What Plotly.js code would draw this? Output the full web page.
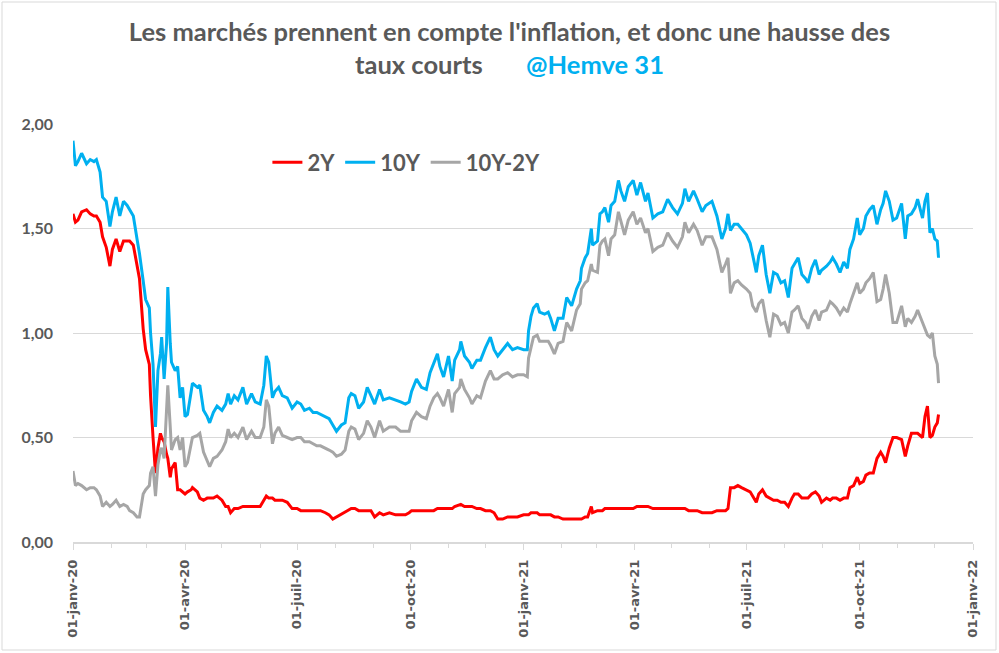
<!DOCTYPE html>
<html><head><meta charset="utf-8">
<script src="https://cdn.plot.ly/plotly-3.0.1.min.js"></script>
<style>html,body{margin:0;padding:0;background:#fff}#chart{width:999px;height:653px}</style>
</head><body><div id="chart"></div>
<script>
const dates = [
'2020-01-01','2020-01-03','2020-01-05','2020-01-08','2020-01-12','2020-01-15','2020-01-18','2020-01-20','2020-01-23','2020-01-25',
'2020-01-28','2020-01-31','2020-02-02','2020-02-05','2020-02-08','2020-02-11','2020-02-14','2020-02-16','2020-02-19','2020-02-22',
'2020-02-24','2020-02-27','2020-02-29','2020-03-03','2020-03-04','2020-03-06','2020-03-08','2020-03-10','2020-03-12','2020-03-13',
'2020-03-15','2020-03-17','2020-03-18','2020-03-20','2020-03-21','2020-03-24','2020-03-26','2020-03-28','2020-03-30','2020-04-01',
'2020-04-03','2020-04-06','2020-04-07','2020-04-11','2020-04-13','2020-04-16','2020-04-19','2020-04-21','2020-04-24','2020-04-27',
'2020-05-01','2020-05-04','2020-05-06','2020-05-08','2020-05-11','2020-05-14','2020-05-18','2020-05-21','2020-05-25','2020-05-28',
'2020-06-01','2020-06-04','2020-06-06','2020-06-08','2020-06-11','2020-06-13','2020-06-16','2020-06-19','2020-06-23','2020-06-27',
'2020-07-01','2020-07-04','2020-07-07','2020-07-11','2020-07-14','2020-07-17','2020-07-20','2020-07-24','2020-07-27','2020-07-30',
'2020-08-02','2020-08-06','2020-08-09','2020-08-12','2020-08-14','2020-08-17','2020-08-20','2020-08-24','2020-08-27','2020-08-30',
'2020-09-02','2020-09-06','2020-09-09','2020-09-14','2020-09-19','2020-09-23','2020-09-27','2020-09-30','2020-10-02','2020-10-06',
'2020-10-10','2020-10-14','2020-10-17','2020-10-20','2020-10-23','2020-10-25','2020-10-28','2020-11-01','2020-11-04','2020-11-06',
'2020-11-10','2020-11-11','2020-11-14','2020-11-18','2020-11-20','2020-11-24','2020-11-27','2020-12-01','2020-12-05','2020-12-08',
'2020-12-11','2020-12-15','2020-12-19','2020-12-23','2020-12-27','2021-01-01','2021-01-04','2021-01-05','2021-01-07','2021-01-09',
'2021-01-12','2021-01-14','2021-01-18','2021-01-21','2021-01-23','2021-01-26','2021-01-29','2021-02-02','2021-02-05','2021-02-09',
'2021-02-13','2021-02-16','2021-02-17','2021-02-20','2021-02-22','2021-02-25','2021-02-26','2021-03-02','2021-03-04','2021-03-06',
'2021-03-08','2021-03-11','2021-03-13','2021-03-16','2021-03-19','2021-03-21','2021-03-24','2021-03-27','2021-03-31','2021-04-03',
'2021-04-06','2021-04-10','2021-04-12','2021-04-16','2021-04-20','2021-04-24','2021-04-28','2021-05-02','2021-05-06','2021-05-10',
'2021-05-12','2021-05-15','2021-05-19','2021-05-22','2021-05-26','2021-05-29','2021-06-03','2021-06-07','2021-06-11','2021-06-14',
'2021-06-16','2021-06-18','2021-06-21','2021-06-24','2021-06-27','2021-07-01','2021-07-04','2021-07-06','2021-07-09','2021-07-11',
'2021-07-14','2021-07-17','2021-07-20','2021-07-23','2021-07-26','2021-07-29','2021-08-01','2021-08-04','2021-08-07','2021-08-09',
'2021-08-12','2021-08-15','2021-08-18','2021-08-20','2021-08-23','2021-08-26','2021-08-29','2021-08-31','2021-09-04','2021-09-07',
'2021-09-09','2021-09-12','2021-09-15','2021-09-18','2021-09-21','2021-09-23','2021-09-26','2021-09-29','2021-10-01','2021-10-04',
'2021-10-06','2021-10-09','2021-10-12','2021-10-15','2021-10-18','2021-10-20','2021-10-22','2021-10-25','2021-10-28','2021-10-31',
'2021-11-04','2021-11-07','2021-11-09','2021-11-12','2021-11-15','2021-11-17','2021-11-21','2021-11-23','2021-11-25','2021-11-27',
'2021-11-29','2021-12-01','2021-12-03','2021-12-04'
];
const y10 = [
1.92,1.80,1.82,1.86,1.81,1.83,1.82,1.83,1.77,1.65,
1.63,1.51,1.58,1.65,1.56,1.63,1.61,1.59,1.56,1.45,
1.38,1.25,1.16,1.12,1.00,0.85,0.55,0.82,0.90,0.98,
0.78,0.95,1.22,0.95,0.86,0.82,0.84,0.69,0.74,0.60,
0.61,0.72,0.76,0.74,0.75,0.63,0.60,0.57,0.62,0.65,
0.63,0.66,0.71,0.66,0.70,0.68,0.74,0.66,0.71,0.67,
0.66,0.75,0.89,0.86,0.69,0.72,0.74,0.70,0.69,0.64,
0.67,0.66,0.63,0.64,0.62,0.62,0.61,0.60,0.59,0.56,
0.53,0.56,0.57,0.69,0.71,0.70,0.64,0.67,0.74,0.70,
0.66,0.73,0.68,0.69,0.68,0.67,0.66,0.67,0.72,0.78,
0.74,0.73,0.81,0.86,0.90,0.84,0.79,0.89,0.77,0.87,
0.92,0.96,0.89,0.86,0.83,0.87,0.87,0.93,0.98,0.92,
0.89,0.92,0.95,0.92,0.93,0.92,0.92,1.01,1.08,1.12,
1.14,1.10,1.09,1.10,1.07,1.01,1.07,1.07,1.17,1.13,
1.21,1.25,1.31,1.36,1.38,1.50,1.42,1.44,1.57,1.58,
1.60,1.53,1.61,1.63,1.73,1.68,1.63,1.70,1.73,1.66,
1.72,1.63,1.67,1.55,1.57,1.58,1.64,1.60,1.57,1.62,
1.69,1.63,1.68,1.64,1.58,1.61,1.63,1.56,1.45,1.50,
1.57,1.49,1.52,1.52,1.50,1.47,1.43,1.38,1.29,1.37,
1.42,1.28,1.19,1.29,1.28,1.24,1.25,1.17,1.31,1.33,
1.36,1.28,1.26,1.24,1.31,1.35,1.28,1.30,1.32,1.34,
1.36,1.33,1.29,1.34,1.31,1.40,1.45,1.55,1.47,1.50,
1.56,1.59,1.61,1.52,1.59,1.62,1.68,1.63,1.54,1.55,
1.62,1.45,1.56,1.57,1.60,1.64,1.55,1.63,1.67,1.48,
1.50,1.45,1.44,1.36
];
const y2 = [
1.57,1.53,1.54,1.58,1.59,1.57,1.56,1.56,1.53,1.46,
1.41,1.32,1.40,1.45,1.39,1.44,1.44,1.44,1.42,1.33,
1.26,1.02,0.92,0.85,0.70,0.50,0.33,0.45,0.52,0.50,
0.48,0.42,0.40,0.31,0.35,0.38,0.25,0.25,0.24,0.23,
0.24,0.25,0.26,0.24,0.21,0.20,0.21,0.21,0.21,0.22,
0.20,0.17,0.17,0.14,0.16,0.16,0.17,0.17,0.17,0.17,
0.17,0.20,0.22,0.21,0.21,0.20,0.20,0.20,0.19,0.16,
0.16,0.15,0.15,0.15,0.15,0.15,0.15,0.14,0.13,0.11,
0.12,0.13,0.14,0.15,0.16,0.16,0.15,0.15,0.15,0.15,
0.12,0.14,0.13,0.14,0.13,0.13,0.13,0.14,0.15,0.15,
0.15,0.15,0.15,0.15,0.16,0.16,0.16,0.16,0.16,0.17,
0.18,0.18,0.17,0.17,0.17,0.16,0.16,0.15,0.15,0.14,
0.11,0.11,0.12,0.12,0.12,0.13,0.13,0.13,0.14,0.14,
0.14,0.13,0.13,0.13,0.13,0.12,0.12,0.11,0.11,0.11,
0.11,0.11,0.11,0.12,0.12,0.17,0.14,0.15,0.15,0.15,
0.16,0.16,0.16,0.16,0.16,0.16,0.16,0.16,0.16,0.17,
0.17,0.17,0.17,0.16,0.16,0.16,0.16,0.16,0.16,0.16,
0.16,0.15,0.15,0.15,0.14,0.14,0.14,0.15,0.15,0.15,
0.16,0.26,0.26,0.27,0.26,0.25,0.24,0.22,0.19,0.23,
0.25,0.22,0.21,0.20,0.20,0.19,0.19,0.17,0.21,0.23,
0.23,0.21,0.21,0.21,0.23,0.24,0.22,0.19,0.21,0.20,
0.21,0.21,0.20,0.21,0.21,0.26,0.27,0.31,0.28,0.29,
0.32,0.33,0.33,0.40,0.43,0.41,0.38,0.45,0.50,0.50,
0.49,0.41,0.46,0.52,0.52,0.52,0.50,0.60,0.65,0.50,
0.51,0.55,0.57,0.61
];
const ySpread = [
0.34,0.27,0.28,0.27,0.25,0.26,0.26,0.25,0.22,0.17,
0.19,0.17,0.18,0.20,0.17,0.18,0.17,0.15,0.14,0.12,
0.12,0.23,0.25,0.27,0.33,0.36,0.22,0.37,0.44,0.45,
0.40,0.60,0.75,0.55,0.44,0.49,0.50,0.44,0.50,0.36,
0.38,0.47,0.50,0.51,0.52,0.43,0.39,0.36,0.40,0.41,
0.44,0.48,0.54,0.50,0.52,0.50,0.55,0.49,0.53,0.50,
0.50,0.55,0.68,0.65,0.47,0.52,0.55,0.51,0.50,0.49,
0.50,0.50,0.48,0.48,0.47,0.46,0.46,0.45,0.44,0.43,
0.41,0.42,0.44,0.53,0.55,0.54,0.49,0.52,0.58,0.55,
0.50,0.58,0.53,0.55,0.55,0.53,0.53,0.53,0.58,0.62,
0.60,0.59,0.65,0.69,0.71,0.69,0.65,0.73,0.62,0.71,
0.74,0.78,0.73,0.69,0.66,0.70,0.69,0.77,0.82,0.78,
0.78,0.80,0.81,0.79,0.80,0.80,0.79,0.88,0.93,0.98,
0.99,0.96,0.96,0.96,0.94,0.90,0.95,0.96,1.05,1.01,
1.11,1.14,1.21,1.24,1.25,1.33,1.30,1.29,1.42,1.44,
1.45,1.37,1.45,1.47,1.58,1.53,1.47,1.54,1.58,1.52,
1.55,1.48,1.50,1.39,1.41,1.42,1.48,1.44,1.41,1.46,
1.53,1.48,1.52,1.49,1.42,1.46,1.46,1.40,1.29,1.33,
1.36,1.19,1.24,1.25,1.23,1.21,1.19,1.13,1.10,1.14,
1.16,1.06,0.98,1.09,1.08,1.04,1.05,1.00,1.10,1.11,
1.13,1.07,1.05,1.02,1.08,1.11,1.06,1.10,1.11,1.15,
1.14,1.12,1.09,1.12,1.10,1.14,1.19,1.24,1.19,1.21,
1.24,1.26,1.29,1.15,1.16,1.21,1.28,1.19,1.05,1.05,
1.13,1.03,1.07,1.05,1.08,1.11,1.05,1.02,0.99,0.98,
1.00,0.89,0.85,0.76
];
const seriesNames = ['2Y','10Y','10Y-2Y'];
const tickDates = ['2020-01-01','2020-04-01','2020-07-01','2020-10-01','2021-01-01','2021-04-01','2021-07-01','2021-10-01','2022-01-01'];
const tickLabels = ['01-janv-20','01-avr-20','01-juil-20','01-oct-20','01-janv-21','01-avr-21','01-juil-21','01-oct-21','01-janv-22'];
const yTicks = [0,0.5,1,1.5,2];

const font = 'Lato, "Open Sans", sans-serif';
const grey = '#595959';
const traces = [
  {x: dates, y: y2, name: seriesNames[0], type:'scatter', mode:'lines', line:{color:'#ff0000', width:3}},
  {x: dates, y: y10, name: seriesNames[1], type:'scatter', mode:'lines', line:{color:'#00b0f0', width:3}},
  {x: dates, y: ySpread, name: seriesNames[2], type:'scatter', mode:'lines', line:{color:'#a6a6a6', width:3}}
];
const W = 900, H = 418;
const layout = {
  width: 999, height: 653,
  margin: {l:73, r:26, t:124, b:111},
  paper_bgcolor:'#fff', plot_bgcolor:'#fff',
  separators: ', ',
  font: {family: font, color: grey},
  title: {
    text: "<b>Les marchés prennent en compte l'inflation, et donc une hausse des<br>taux courts\u00a0\u00a0\u00a0\u00a0\u00a0\u00a0\u00a0<span style='color:#00b0f0'>@Hemve 31</span></b>",
    font: {family: font, size: 25.5, color: grey},
    x: 0.51, xanchor:'center', yref:'container', y: 0.937, yanchor:'top'
  },
  showlegend: true,
  legend: {
    orientation:'h', x: 0.216, y: 0.958, xanchor:'left', yanchor:'top',
    font:{family: font, size: 22, color: grey, weight: 'bold'},
    bgcolor:'rgba(0,0,0,0)', itemwidth: 30, tracegroupgap: 0
  },
  xaxis: {
    type:'date', range:['2020-01-01','2022-01-01'],
    tickmode:'array', tickvals: tickDates, ticktext: tickLabels,
    tickangle: -90, tickfont:{family: '"DejaVu Sans", Verdana, sans-serif', size: 13, color: grey, weight:'bold'},
    showgrid:false, showline:true, linecolor:'#d9d9d9', linewidth:1.5,
    ticks:'outside', ticklen:6, tickcolor:'#d9d9d9', tickwidth:1, ticklabelstandoff: 5,
    minor:{dtick:'M1', tick0:'2020-01-01', ticks:'outside', ticklen:4, tickcolor:'#d9d9d9', showgrid:false},
    zeroline:false, fixedrange:true
  },
  yaxis: {
    range:[0,2], tickmode:'array', tickvals: yTicks, tickformat:'.2f',
    tickfont:{family: font, size: 16, color: grey, weight:'bold'},
    showgrid:true, gridcolor:'#d9d9d9', gridwidth:1, ticklabelstandoff: 19,
    showline:false, zeroline:false, ticks:'', ticklen:0, fixedrange:true
  },
  shapes: [{
    type:'rect', xref:'paper', yref:'paper',
    x0:(2-73)/W, x1:(996-73)/W, y0:-(650-542)/H, y1:(542-2)/H,
    line:{color:'#d9d9d9', width:1}, fillcolor:'rgba(0,0,0,0)', layer:'below'
  }]
};
Plotly.newPlot('chart', traces, layout, {displayModeBar:false, staticPlot:true});
</script>
</body></html>
